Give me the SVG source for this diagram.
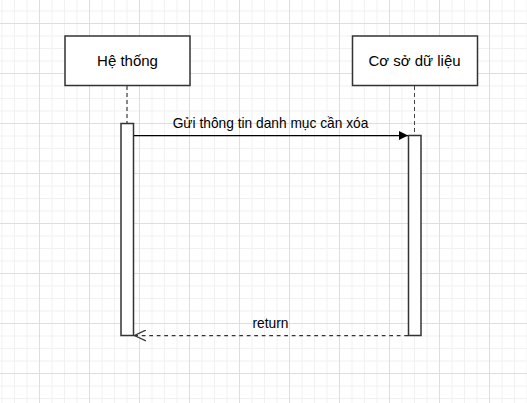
<svg xmlns="http://www.w3.org/2000/svg" width="527" height="403" viewBox="0 0 527 403">
  <style>
    .box { fill: #ffffff; stroke: #333333; stroke-width: 1.5; }
    .act { fill: #ffffff; stroke: #333333; stroke-width: 1.5; }
    .life { stroke: #444444; stroke-width: 1.25; stroke-dasharray: 4 3; fill: none; }
    .lbl { font-family: "Liberation Sans", Arial, Helvetica, sans-serif; fill: #000000; text-anchor: middle; }
    .node-lbl { font-size: 15px; }
    .edge-lbl { font-size: 13.75px; }
    .msg { stroke: #000000; stroke-width: 1.25; fill: none; }
    .ret { stroke: #333333; stroke-width: 1.25; fill: none; stroke-dasharray: 3.75 3.75; }
  </style>
  <defs>
    <pattern id="grid" x="39" y="23" width="50" height="50" patternUnits="userSpaceOnUse">
      <path d="M13 0V50M25.5 0V50M38 0V50M0 13H50M0 25.5H50M0 38H50" stroke="#f1f1f1" stroke-width="1" fill="none"/>
      <path d="M0.5 0V50M0 0.5H50" stroke="#dedede" stroke-width="1" fill="none"/>
    </pattern>
    <marker id="filled" viewBox="0 0 10 10" refX="10" refY="5" markerWidth="10.5" markerHeight="9" markerUnits="userSpaceOnUse" orient="auto">
      <path d="M0 0L10 5L0 10Z" fill="#000000"/>
    </marker>
    <marker id="open" viewBox="0 0 12 12" refX="11.5" refY="6" markerWidth="12" markerHeight="12" markerUnits="userSpaceOnUse" orient="auto">
      <path d="M0 0.5L11.5 6L0 11.5" fill="none" stroke="#333333" stroke-width="1.25"/>
    </marker>
  </defs>
  <rect x="0" y="0" width="527" height="403" fill="#ffffff"/>
  <rect x="0" y="0" width="527" height="403" fill="url(#grid)" shape-rendering="crispEdges"/>

  <g id="he-thong">
    <rect class="box" x="65" y="36" width="125" height="49.5"/>
    <text class="lbl node-lbl" x="127.5" y="66">Hệ thống</text>
    <line class="life" x1="127" y1="86" x2="127" y2="123"/>
    <rect class="act" x="121" y="123.5" width="12.5" height="212"/>
  </g>

  <g id="co-so-du-lieu">
    <rect class="box" x="352.5" y="36" width="125" height="49.5"/>
    <text class="lbl node-lbl" x="414.5" y="66">Cơ sở dữ liệu</text>
    <line class="life" x1="414.5" y1="86" x2="414.5" y2="135.5" style="stroke-width:1"/>
    <rect class="act" x="408.5" y="135.5" width="12.5" height="200"/>
  </g>

  <g id="connectors">
    <g id="msg-gui">
      <line class="msg" x1="134" y1="135.5" x2="408" y2="135.5" marker-end="url(#filled)"/>
      <text class="lbl edge-lbl" x="270.5" y="127.5">Gửi thông tin danh mục cần xóa</text>
    </g>
    <g id="msg-return">
      <line class="ret" x1="408" y1="335.5" x2="134.5" y2="335.5" marker-end="url(#open)"/>
      <text class="lbl edge-lbl" x="270.5" y="327.5">return</text>
    </g>
  </g>
</svg>
